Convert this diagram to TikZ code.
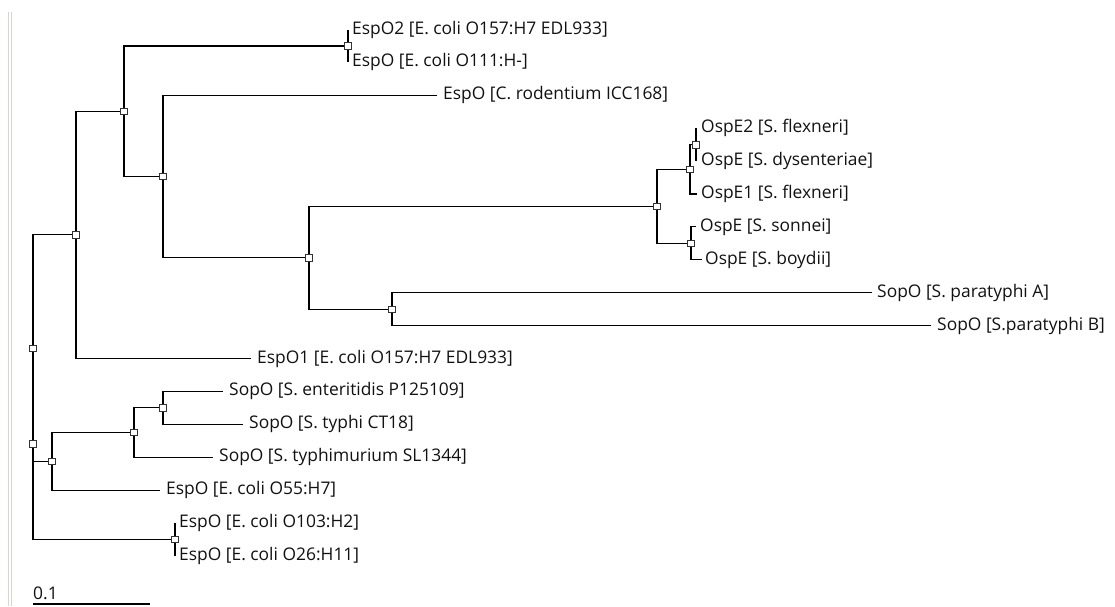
\documentclass[tikz,border=0pt]{standalone}
\usepackage{fontspec}
\setmainfont{Open Sans}
\definecolor{barc}{HTML}{D9D5CC}
\definecolor{sqc}{HTML}{333333}
\definecolor{txt}{HTML}{111111}
\begin{document}
\begin{tikzpicture}[x=1pt,y=-1pt,
  br/.style={draw=black,line width=1.1pt},
  sq/.style={draw=sqc,fill=white,line width=0.6pt,minimum size=6.5pt,inner sep=0pt,rectangle},
  lab/.style={anchor=west,inner sep=0pt,text=txt,font=\fontsize{17.4}{20}\selectfont}]
\useasboundingbox (0,0) rectangle (1115,606);
% left frame bar
\draw[barc,line width=1pt] (8.5,12) -- (8.5,606);
\draw[barc,line width=1pt] (11.5,12) -- (11.5,606);
% internal nodes
\coordinate (J) at (348,46);
\coordinate (H) at (696,144.65);
\coordinate (G) at (690,169.3);
\coordinate (I) at (691,243.35);
\coordinate (F) at (657,206.3);
\coordinate (E) at (392,309.15);
\coordinate (D) at (309,257.7);
\coordinate (C) at (163,176.5);
\coordinate (B) at (124,111.2);
\coordinate (A) at (76,234.9);
\coordinate (N) at (163,407.85);
\coordinate (M) at (134,432.5);
\coordinate (K) at (52,461.3);
\coordinate (R1) at (33,348.1);
\coordinate (L) at (175,539.45);
\coordinate (R2) at (33,443.8);
% leaf tips
\coordinate (t0) at (348,29.5);
\coordinate (t1) at (348,62.4);
\coordinate (t2) at (437,95.3);
\coordinate (t3) at (696,128.2);
\coordinate (t4) at (696,161.1);
\coordinate (t5) at (697,194.0);
\coordinate (t6) at (696,226.9);
\coordinate (t7) at (702,259.8);
\coordinate (t8) at (872,292.7);
\coordinate (t9) at (931,325.6);
\coordinate (t10) at (251,358.5);
\coordinate (t11) at (223,391.4);
\coordinate (t12) at (243,424.3);
\coordinate (t13) at (213,457.2);
\coordinate (t14) at (160,490.1);
\coordinate (t15) at (175,523.0);
\coordinate (t16) at (175,555.9);
% labels
\node[lab] (l0) at (352,29.5) {EspO2 [E. coli O157:H7 EDL933]};
\node[lab] (l1) at (352,62.4) {EspO [E. coli O111:H-]};
\node[lab] (l2) at (443,95.3) {EspO [C. rodentium ICC168]};
\node[lab] (l3) at (701,128.2) {OspE2 [S. flexneri]};
\node[lab] (l4) at (701,161.1) {OspE [S. dysenteriae]};
\node[lab] (l5) at (701,194.0) {OspE1 [S. flexneri]};
\node[lab] (l6) at (700,226.9) {OspE [S. sonnei]};
\node[lab] (l7) at (705,259.8) {OspE [S. boydii]};
\node[lab] (l8) at (877,292.7) {SopO [S. paratyphi A]};
\node[lab] (l9) at (937,325.6) {SopO [S.paratyphi B]};
\node[lab] (l10) at (257,358.5) {EspO1 [E. coli O157:H7 EDL933]};
\node[lab] (l11) at (229,391.4) {SopO [S. enteritidis P125109]};
\node[lab] (l12) at (249,424.3) {SopO [S. typhi CT18]};
\node[lab] (l13) at (219,457.2) {SopO [S. typhimurium SL1344]};
\node[lab] (l14) at (166,490.1) {EspO [E. coli O55:H7]};
\node[lab] (l15) at (179,523.0) {EspO [E. coli O103:H2]};
\node[lab] (l16) at (179,555.9) {EspO [E. coli O26:H11]};
% branches
\draw[br] (J) |- (t0); \draw[br] (J) |- (t1);
\draw[br] (H) |- (t3); \draw[br] (H) |- (t4);
\draw[br] (G) |- (H); \draw[br] (G) |- (t5);
\draw[br] (I) |- (t6); \draw[br] (I) |- (t7);
\draw[br] (F) |- (G); \draw[br] (F) |- (I);
\draw[br] (E) |- (t8); \draw[br] (E) |- (t9);
\draw[br] (D) |- (F); \draw[br] (D) |- (E);
\draw[br] (C) |- (t2); \draw[br] (C) |- (D);
\draw[br] (B) |- (J); \draw[br] (B) |- (C);
\draw[br] (A) |- (B); \draw[br] (A) |- (t10);
\draw[br] (N) |- (t11); \draw[br] (N) |- (t12);
\draw[br] (M) |- (N); \draw[br] (M) |- (t13);
\draw[br] (K) |- (M); \draw[br] (K) |- (t14);
\draw[br] (R1) |- (A); \draw[br] (R1) |- (K);
\draw[br] (L) |- (t15); \draw[br] (L) |- (t16);
\draw[br] (R2) |- (R1); \draw[br] (R2) |- (L);
% node squares
\foreach \n in {J,H,G,I,F,E,D,C,B,A,N,M,K,R1,L,R2}
  \node[sq] (s\n) at (\n) {};
% scale bar
\coordinate (sb0) at (33,604);
\coordinate (sb1) at (150,604);
\draw[line width=1.1pt] (sb0) -- (sb1);
\node[lab] (sbl) at (33,593) {0.1};
\end{tikzpicture}
\end{document}
